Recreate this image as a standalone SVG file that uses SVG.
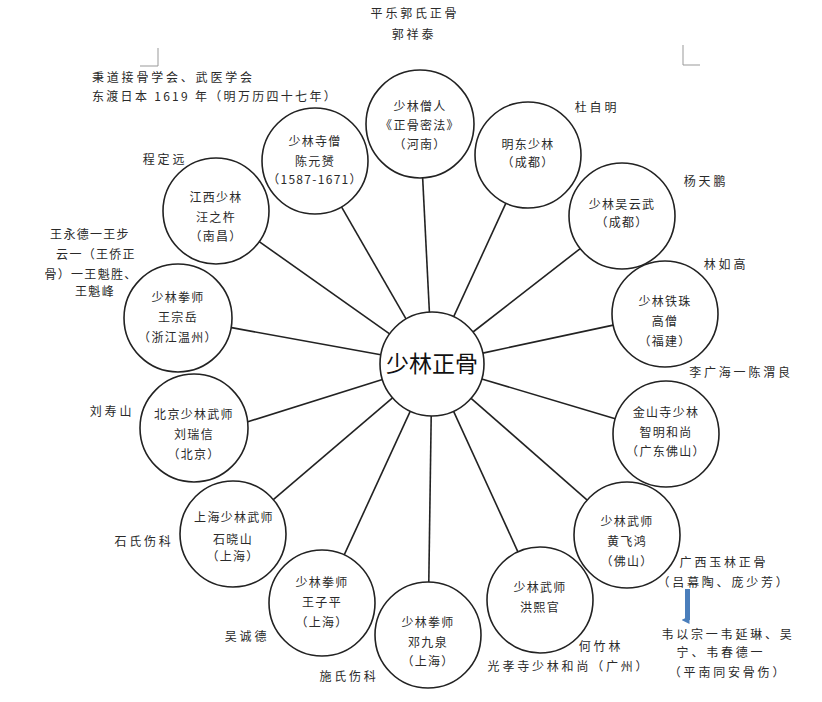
<svg xmlns="http://www.w3.org/2000/svg" width="822" height="702" viewBox="0 0 822 702">
<style>
text{font-family:"Noto Sans CJK SC","Noto Sans",sans-serif;fill:#2a2a2a;font-size:12px;text-anchor:middle;letter-spacing:1.3px}
.lb{letter-spacing:2.8px}
.n circle{fill:#fff;stroke:#222;stroke-width:1.6}
.c line{stroke:#222;stroke-width:1.6}
.mark{stroke:#999;stroke-width:1;fill:none}
.big{font-size:23px;fill:#111;letter-spacing:0}
</style>
<defs>
<marker id="ah" markerWidth="8" markerHeight="8" refX="4" refY="2" orient="auto" markerUnits="userSpaceOnUse"><path d="M0,0 L8,0 L4,8 Z" fill="#4a7ebb"/></marker>
</defs>
<rect width="822" height="702" fill="#fff"/>
<path class="mark" d="M158,48 V66 H140"/>
<path class="mark" d="M683,45 V65 H700"/>
<g class="c" id="connectors">
<line x1="429.4" y1="312.1" x2="422.6" y2="176.9"/>
<line x1="453.7" y1="316.7" x2="505.9" y2="203.2"/>
<line x1="473.0" y1="332.0" x2="580.2" y2="248.6"/>
<line x1="482.8" y1="353.1" x2="613.2" y2="325.1"/>
<line x1="481.8" y1="378.9" x2="615.2" y2="418.8"/>
<line x1="471.1" y1="398.3" x2="587.2" y2="500.1"/>
<line x1="453.6" y1="411.3" x2="517.9" y2="551.8"/>
<line x1="431.2" y1="416" x2="428.8" y2="582"/>
<line x1="410.3" y1="411.2" x2="344.2" y2="554.9"/>
<line x1="392.5" y1="397.8" x2="273.3" y2="499.6"/>
<line x1="382.4" y1="379.5" x2="247" y2="422"/>
<line x1="380.8" y1="354.7" x2="230.2" y2="327.4"/>
<line x1="389.6" y1="333.9" x2="259.2" y2="241.6"/>
<line x1="406.0" y1="318.9" x2="341.5" y2="206.9"/>
</g>
<g class="n" id="center"><circle cx="432" cy="364" r="52"/><text class="big" x="432" y="372">少林正骨</text></g>
<g class="n" id="n1"><circle cx="420" cy="124" r="54"/><text x="420" y="111">少林僧人</text><text x="420" y="130">《正骨密法》</text><text x="420" y="149">（河南）</text></g>
<g class="n" id="n2"><circle cx="528" cy="155" r="53"/><text x="528" y="149">明东少林</text><text x="528" y="167">（成都）</text></g>
<g class="n" id="n3"><circle cx="622" cy="216" r="53"/><text x="622" y="209">少林吴云武</text><text x="622" y="227">（成都）</text></g>
<g class="n" id="n4"><circle cx="665" cy="314" r="53"/><text x="665" y="306">少林铁珠</text><text x="665" y="326">高僧</text><text x="665" y="346">（福建）</text></g>
<g class="n" id="n5"><circle cx="666" cy="434" r="53"/><text x="666" y="417">金山寺少林</text><text x="666" y="437">智明和尚</text><text x="666" y="456">（广东佛山）</text></g>
<g class="n" id="n6"><circle cx="627" cy="535" r="53"/><text x="627" y="526">少林武师</text><text x="627" y="546">黄飞鸿</text><text x="627" y="566">（佛山）</text></g>
<g class="n" id="n7"><circle cx="540" cy="600" r="53"/><text x="540" y="592">少林武师</text><text x="540" y="612">洪熙官</text></g>
<g class="n" id="n8"><circle cx="428" cy="635" r="53"/><text x="428" y="627">少林拳师</text><text x="428" y="647">邓九泉</text><text x="428" y="666">（上海）</text></g>
<g class="n" id="n9"><circle cx="322" cy="603" r="53"/><text x="322" y="587">少林拳师</text><text x="322" y="607">王子平</text><text x="322" y="627">（上海）</text></g>
<g class="n" id="n10"><circle cx="233" cy="534" r="53"/><text x="234" y="522">上海少林武师</text><text x="233" y="544">石晓山</text><text x="233" y="561">（上海）</text></g>
<g class="n" id="n11"><circle cx="194" cy="428" r="54"/><text x="194" y="419">北京少林武师</text><text x="194" y="439">刘瑞信</text><text x="194" y="459">（北京）</text></g>
<g class="n" id="n12"><circle cx="178" cy="318" r="54"/><text x="178" y="302">少林拳师</text><text x="178" y="322">王宗岳</text><text x="178" y="342">（浙江温州）</text></g>
<g class="n" id="n13"><circle cx="216" cy="211" r="53"/><text x="216" y="202">江西少林</text><text x="216" y="222">汪之杵</text><text x="216" y="241">（南昌）</text></g>
<g class="n" id="n14"><circle cx="315" cy="161" r="53"/><text x="315" y="146">少林寺僧</text><text x="315" y="166">陈元赟</text><text x="315" y="184">（1587-1671）</text></g>
<g id="labels">
<text class="lb" x="415" y="18">平乐郭氏正骨</text>
<text class="lb" x="414" y="39">郭祥泰</text>
<text class="lb" x="92" y="82" style="text-anchor:start">秉道接骨学会、武医学会</text>
<text class="lb" x="92" y="101" style="text-anchor:start;letter-spacing:2.3px">东渡日本 1619 年（明万历四十七年）</text>
<text class="lb" x="165" y="164">程定远</text>
<text x="90" y="239">王永德一王步</text>
<text x="96" y="259">云一（王侨正</text>
<text x="91" y="279">骨）一王魁胜、</text>
<text x="95" y="296">王魁峰</text>
<text class="lb" x="597" y="112">杜自明</text>
<text class="lb" x="706" y="186">杨天鹏</text>
<text class="lb" x="726" y="269">林如高</text>
<text class="lb" x="741" y="377">李广海一陈渭良</text>
<text class="lb" x="112" y="416">刘寿山</text>
<text class="lb" x="144" y="546">石氏伤科</text>
<text class="lb" x="247" y="641">吴诚德</text>
<text class="lb" x="349" y="681">施氏伤科</text>
<text class="lb" x="601" y="651">何竹林</text>
<text class="lb" x="569" y="671">光孝寺少林和尚（广州）</text>
<text class="lb" x="724" y="567">广西玉林正骨</text>
<text class="lb" x="724" y="587">（吕幕陶、庞少芳）</text>
<text class="lb" x="728" y="639">韦以宗一韦延琳、吴</text>
<text class="lb" x="721" y="657">宁、韦春德一</text>
<text class="lb" x="728" y="677">（平南同安骨伤）</text>
</g>
<line x1="687.5" y1="589" x2="687.5" y2="620" stroke="#4a7ebb" stroke-width="5" marker-end="url(#ah)"/>
</svg>
